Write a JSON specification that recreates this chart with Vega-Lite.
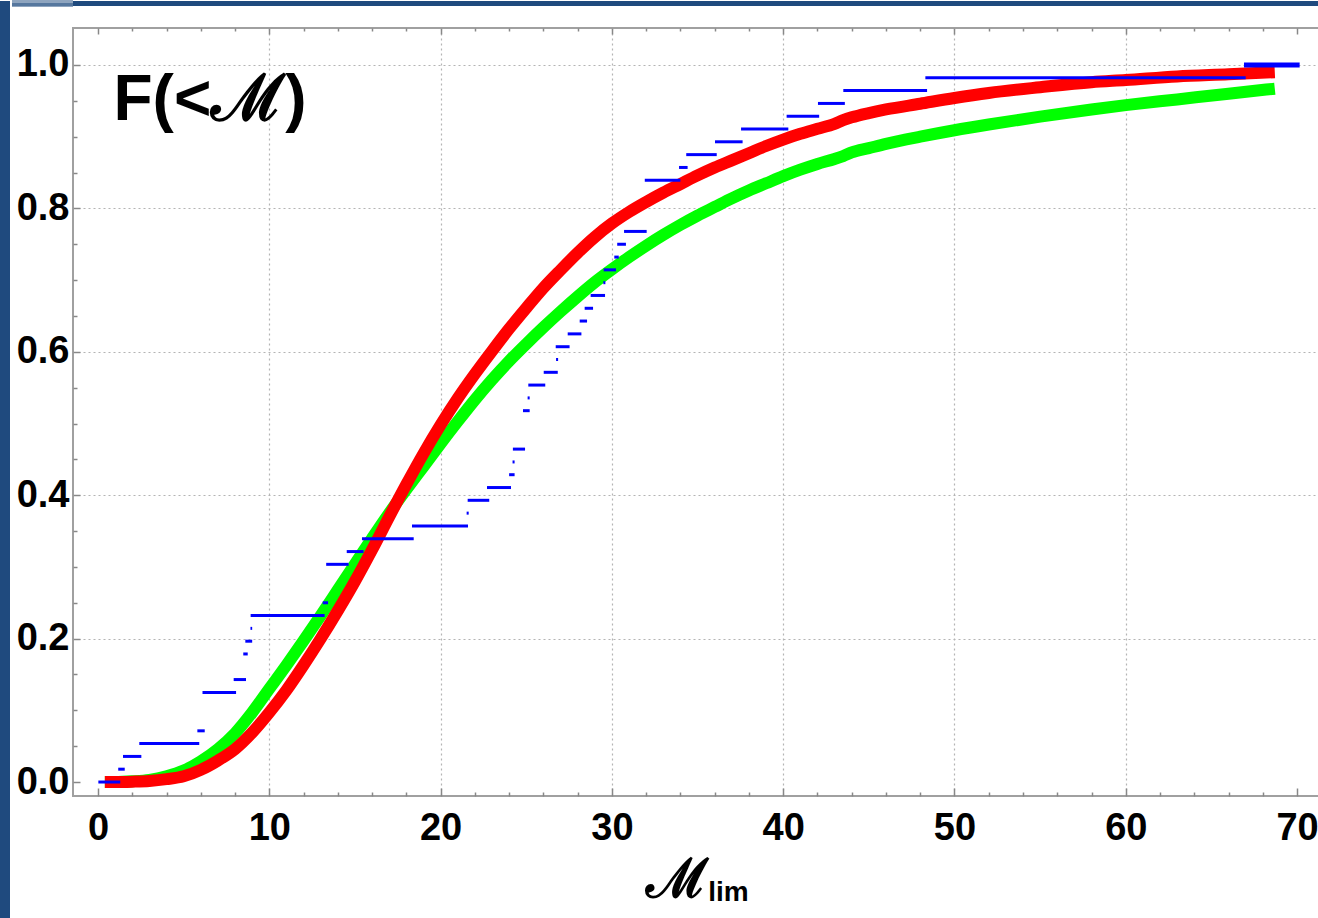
{
  "$schema": "https://vega.github.io/schema/vega-lite/v6.json",
  "background": "white",
  "padding": 0,
  "config": {"view": {"stroke": null}},
  "datasets": {
    "red": [
      {"x": 0.4, "F": 0.0}, {"x": 1, "F": 0.0}, {"x": 2, "F": 0.0005}, {"x": 3, "F": 0.0015}, {"x": 4, "F": 0.004},
      {"x": 5, "F": 0.008}, {"x": 6, "F": 0.017}, {"x": 7, "F": 0.03}, {"x": 8, "F": 0.046}, {"x": 9, "F": 0.069},
      {"x": 10, "F": 0.097}, {"x": 11, "F": 0.128}, {"x": 12, "F": 0.163}, {"x": 13, "F": 0.2}, {"x": 14, "F": 0.239},
      {"x": 15, "F": 0.28}, {"x": 16, "F": 0.324}, {"x": 17, "F": 0.37}, {"x": 18, "F": 0.415}, {"x": 19, "F": 0.458},
      {"x": 20, "F": 0.498}, {"x": 21, "F": 0.535}, {"x": 22, "F": 0.569}, {"x": 23, "F": 0.601}, {"x": 24, "F": 0.632},
      {"x": 25, "F": 0.661}, {"x": 26, "F": 0.689}, {"x": 27, "F": 0.714}, {"x": 28, "F": 0.738}, {"x": 29, "F": 0.76},
      {"x": 30, "F": 0.779}, {"x": 31, "F": 0.795}, {"x": 32, "F": 0.809}, {"x": 33, "F": 0.822}, {"x": 34, "F": 0.834},
      {"x": 35, "F": 0.846}, {"x": 36, "F": 0.857}, {"x": 37, "F": 0.867}, {"x": 38, "F": 0.877}, {"x": 39, "F": 0.887},
      {"x": 40, "F": 0.896}, {"x": 41, "F": 0.904}, {"x": 42, "F": 0.911}, {"x": 43, "F": 0.918}, {"x": 43.5, "F": 0.923},
      {"x": 44, "F": 0.927}, {"x": 45, "F": 0.933}, {"x": 46, "F": 0.938}, {"x": 48, "F": 0.946}, {"x": 50, "F": 0.954},
      {"x": 52, "F": 0.961}, {"x": 55, "F": 0.969}, {"x": 58, "F": 0.976}, {"x": 60, "F": 0.979}, {"x": 63, "F": 0.984},
      {"x": 66, "F": 0.987}, {"x": 68.7, "F": 0.99}
    ],
    "green": [
      {"x": 0.4, "F": 0.0}, {"x": 1, "F": 0.0}, {"x": 2, "F": 0.001}, {"x": 3, "F": 0.003}, {"x": 4, "F": 0.008},
      {"x": 5, "F": 0.016}, {"x": 6, "F": 0.029}, {"x": 7, "F": 0.046}, {"x": 8, "F": 0.068}, {"x": 9, "F": 0.097},
      {"x": 10, "F": 0.13}, {"x": 11, "F": 0.163}, {"x": 12, "F": 0.197}, {"x": 13, "F": 0.232}, {"x": 14, "F": 0.268},
      {"x": 15, "F": 0.304}, {"x": 16, "F": 0.34}, {"x": 17, "F": 0.375}, {"x": 18, "F": 0.408}, {"x": 19, "F": 0.44},
      {"x": 20, "F": 0.472}, {"x": 21, "F": 0.503}, {"x": 22, "F": 0.533}, {"x": 23, "F": 0.561}, {"x": 24, "F": 0.587},
      {"x": 25, "F": 0.611}, {"x": 26, "F": 0.634}, {"x": 27, "F": 0.656}, {"x": 28, "F": 0.677}, {"x": 29, "F": 0.697},
      {"x": 30, "F": 0.715}, {"x": 31, "F": 0.732}, {"x": 32, "F": 0.748}, {"x": 33, "F": 0.763}, {"x": 34, "F": 0.777},
      {"x": 35, "F": 0.79}, {"x": 36, "F": 0.802}, {"x": 37, "F": 0.814}, {"x": 38, "F": 0.825}, {"x": 39, "F": 0.835},
      {"x": 40, "F": 0.845}, {"x": 41, "F": 0.854}, {"x": 42, "F": 0.862}, {"x": 43, "F": 0.869}, {"x": 43.5, "F": 0.873},
      {"x": 44, "F": 0.878}, {"x": 45, "F": 0.884}, {"x": 46, "F": 0.89}, {"x": 48, "F": 0.9}, {"x": 50, "F": 0.909},
      {"x": 52, "F": 0.917}, {"x": 55, "F": 0.928}, {"x": 58, "F": 0.938}, {"x": 60, "F": 0.944}, {"x": 63, "F": 0.952},
      {"x": 66, "F": 0.96}, {"x": 68.7, "F": 0.967}
    ],
    "steps": [
      {"x1": 0.02, "x2": 1.3, "F": 0.0},
      {"x1": 1.18, "x2": 1.56, "F": 0.0179},
      {"x1": 1.46, "x2": 2.53, "F": 0.0357},
      {"x1": 2.41, "x2": 5.91, "F": 0.0536},
      {"x1": 5.8, "x2": 6.23, "F": 0.0714},
      {"x1": 6.1, "x2": 8.06, "F": 0.125},
      {"x1": 7.92, "x2": 8.64, "F": 0.1429},
      {"x1": 8.48, "x2": 8.74, "F": 0.1786},
      {"x1": 8.6, "x2": 9.0, "F": 0.1964},
      {"x1": 8.9, "x2": 9.0, "F": 0.2143},
      {"x1": 8.91, "x2": 13.23, "F": 0.2321},
      {"x1": 13.12, "x2": 13.43, "F": 0.25},
      {"x1": 13.32, "x2": 14.63, "F": 0.3036},
      {"x1": 14.52, "x2": 15.5, "F": 0.3214},
      {"x1": 15.41, "x2": 18.43, "F": 0.3393},
      {"x1": 18.33, "x2": 21.6, "F": 0.3571},
      {"x1": 21.52, "x2": 21.64, "F": 0.375},
      {"x1": 21.58, "x2": 22.84, "F": 0.3929},
      {"x1": 22.71, "x2": 24.11, "F": 0.4107},
      {"x1": 24.0, "x2": 24.32, "F": 0.4286},
      {"x1": 24.2, "x2": 24.32, "F": 0.4464},
      {"x1": 24.22, "x2": 24.93, "F": 0.4643},
      {"x1": 24.81, "x2": 25.2, "F": 0.5179},
      {"x1": 25.08, "x2": 25.2, "F": 0.5357},
      {"x1": 25.12, "x2": 26.11, "F": 0.5536},
      {"x1": 26.02, "x2": 26.84, "F": 0.5714},
      {"x1": 26.74, "x2": 26.86, "F": 0.5893},
      {"x1": 26.72, "x2": 27.53, "F": 0.6071},
      {"x1": 27.42, "x2": 28.22, "F": 0.625},
      {"x1": 28.12, "x2": 28.55, "F": 0.6429},
      {"x1": 28.41, "x2": 28.9, "F": 0.6607},
      {"x1": 28.76, "x2": 29.6, "F": 0.6786},
      {"x1": 29.5, "x2": 29.62, "F": 0.6964},
      {"x1": 29.52, "x2": 30.24, "F": 0.7143},
      {"x1": 30.14, "x2": 30.4, "F": 0.7321},
      {"x1": 30.31, "x2": 30.82, "F": 0.75},
      {"x1": 30.71, "x2": 32.03, "F": 0.7679},
      {"x1": 31.92, "x2": 34.0, "F": 0.8393},
      {"x1": 33.92, "x2": 34.42, "F": 0.8571},
      {"x1": 34.34, "x2": 36.12, "F": 0.875},
      {"x1": 36.02, "x2": 37.63, "F": 0.8929},
      {"x1": 37.54, "x2": 40.3, "F": 0.9107},
      {"x1": 40.2, "x2": 42.1, "F": 0.9286},
      {"x1": 42.03, "x2": 43.6, "F": 0.9464},
      {"x1": 43.51, "x2": 48.4, "F": 0.9643},
      {"x1": 48.3, "x2": 67.0, "F": 0.9821},
      {"x1": 66.9, "x2": 70.15, "F": 1.0}
    ]
  },
  "concat": [
    {
      "width": 10, "height": 918,
      "data": {"values": [{}]},
      "mark": {"type": "rect", "color": "#1f4a7e"},
      "encoding": {}
    },
    {
      "concat": [
        {
          "width": 1246, "height": 5,
          "data": {"values": [{}]},
          "layer": [
            {
              "mark": {"type": "rect", "color": "#1f4a7e"},
              "encoding": {}
            },
            {
              "mark": {"type": "rule", "color": "#1f4a7e", "strokeWidth": 1, "opacity": 0},
              "encoding": {
                "y": {"datum": 0.5, "type": "quantitative", "scale": {"domain": [0, 1], "nice": false, "zero": false},
                  "axis": {"orient": "left", "title": null, "domain": false, "labels": false, "grid": false,
                    "values": [0.1, 0.3, 0.5, 0.7, 0.9], "tickSize": 61, "tickWidth": 1, "tickColor": "#1f4a7e",
                    "translate": 0, "minExtent": 62, "maxExtent": 62}}
              }
            }
          ]
        },
        {
          "width": 1246, "height": 768,
          "view": {"stroke": "#a0a0a0", "strokeWidth": 2, "fill": "white"},
          "resolve": {"axis": {"x": "independent", "y": "independent"}},
          "layer": [
            {
              "data": {"name": "green"},
              "mark": {"type": "line", "color": "#00ff00", "strokeWidth": 12, "interpolate": "monotone", "strokeCap": "butt"},
              "encoding": {
                "x": {"field": "x", "type": "quantitative", "scale": {"domain": [-1.46, 71.28], "nice": false, "zero": false},
                  "axis": {"orient": "bottom", "title": null, "domain": false,
                    "values": [0,2,4,6,8,10,12,14,16,18,20,22,24,26,28,30,32,34,36,38,40,42,44,46,48,50,52,54,56,58,60,62,64,66,68,70],
                    "labelExpr": "datum.value % 10 === 0 ? datum.label : ''",
                    "tickSize": {"condition": {"test": "datum.value % 10 === 0", "value": -8}, "value": -4},
                    "tickColor": "#888888", "tickWidth": 1.5,
                    "grid": true,
                    "gridOpacity": {"condition": {"test": "datum.value % 10 === 0 && datum.value > 0 && datum.value < 70", "value": 1}, "value": 0},
                    "gridColor": "#b4b4b4", "gridDash": [2, 3], "gridWidth": 1.2,
                    "labelFont": "Liberation Sans", "labelFontWeight": "bold", "labelFontSize": 38, "labelColor": "black",
                    "labelPadding": 21, "labelFlush": false, "labelOverlap": false}},
                "y": {"field": "F", "type": "quantitative", "scale": {"domain": [-0.0195, 1.0516], "nice": false, "zero": false},
                  "axis": {"orient": "left", "title": null, "domain": false,
                    "values": [0,0.05,0.1,0.15,0.2,0.25,0.3,0.35,0.4,0.45,0.5,0.55,0.6,0.65,0.7,0.75,0.8,0.85,0.9,0.95,1.0],
                    "labelExpr": "abs(datum.value*5 - round(datum.value*5)) < 0.001 ? format(datum.value, '.1f') : ''",
                    "tickSize": {"condition": {"test": "abs(datum.value*5 - round(datum.value*5)) < 0.001", "value": -7}, "value": -4},
                    "tickColor": "#888888", "tickWidth": 1.5,
                    "grid": true,
                    "gridOpacity": {"condition": {"test": "abs(datum.value*5 - round(datum.value*5)) < 0.001 && datum.value > 0.1", "value": 1}, "value": 0},
                    "gridColor": "#b4b4b4", "gridDash": [2, 3], "gridWidth": 1.2,
                    "labelFont": "Liberation Sans", "labelFontWeight": "bold", "labelFontSize": 38, "labelColor": "black",
                    "labelPadding": 11, "labelFlush": false, "labelOverlap": false,
                    "minExtent": 62, "maxExtent": 62}}
              }
            },
            {
              "data": {"name": "red"},
              "mark": {"type": "line", "color": "#ff0000", "strokeWidth": 12, "interpolate": "monotone", "strokeCap": "butt"},
              "encoding": {
                "x": {"field": "x", "type": "quantitative", "scale": {"domain": [-1.46, 71.28], "nice": false, "zero": false},
                  "axis": {"orient": "top", "title": null, "domain": false, "labels": false, "grid": false,
                    "values": [0,2,4,6,8,10,12,14,16,18,20,22,24,26,28,30,32,34,36,38,40,42,44,46,48,50,52,54,56,58,60,62,64,66,68,70],
                    "tickSize": {"condition": {"test": "datum.value % 10 === 0", "value": -6}, "value": -3},
                    "tickColor": "#888888", "tickWidth": 1.5,
                    "minExtent": 20, "maxExtent": 20}},
                "y": {"field": "F", "type": "quantitative", "scale": {"domain": [-0.0195, 1.0516], "nice": false, "zero": false}, "axis": null}
              }
            },
            {
              "data": {"name": "steps"},
              "transform": [{"filter": "datum.F < 0.999"}],
              "mark": {"type": "rule", "color": "#0000ff", "strokeWidth": 3},
              "encoding": {
                "x": {"field": "x1", "type": "quantitative", "scale": {"domain": [-1.46, 71.28], "nice": false, "zero": false}, "axis": null},
                "x2": {"field": "x2"},
                "y": {"field": "F", "type": "quantitative", "scale": {"domain": [-0.0195, 1.0516], "nice": false, "zero": false}, "axis": null}
              }
            },
            {
              "data": {"name": "steps"},
              "transform": [{"filter": "datum.F >= 0.999"}],
              "mark": {"type": "rule", "color": "#0000ff", "strokeWidth": 5},
              "encoding": {
                "x": {"field": "x1", "type": "quantitative", "scale": {"domain": [-1.46, 71.28], "nice": false, "zero": false}, "axis": null},
                "x2": {"field": "x2"},
                "y": {"field": "F", "type": "quantitative", "scale": {"domain": [-0.0195, 1.0516], "nice": false, "zero": false}, "axis": null}
              }
            },
            {
              "data": {"values": [{}]},
              "mark": {"type": "text", "text": "F(<ℳ)", "font": "Liberation Sans", "fontWeight": "bold", "fontSize": 64, "color": "black", "align": "center", "baseline": "middle"},
              "encoding": {
                "x": {"datum": 6.54, "type": "quantitative", "scale": {"domain": [-1.46, 71.28], "nice": false, "zero": false}, "axis": null},
                "y": {"datum": 0.95, "type": "quantitative", "scale": {"domain": [-0.0195, 1.0516], "nice": false, "zero": false}, "axis": null}
              }
            },
            {
              "data": {"values": [{}]},
              "mark": {"type": "text", "text": "ℳ", "font": "Liberation Sans", "fontWeight": "bold", "fontSize": 54, "color": "black", "align": "center", "baseline": "middle"},
              "encoding": {
                "x": {"datum": 33.8, "type": "quantitative", "scale": {"domain": [-1.46, 71.28], "nice": false, "zero": false}, "axis": null},
                "y": {"datum": -0.138, "type": "quantitative", "scale": {"domain": [-0.0195, 1.0516], "nice": false, "zero": false}, "axis": null}
              }
            },
            {
              "data": {"values": [{}]},
              "mark": {"type": "text", "text": "lim", "font": "Liberation Sans", "fontWeight": "bold", "fontSize": 28, "color": "black", "align": "center", "baseline": "middle"},
              "encoding": {
                "x": {"datum": 36.8, "type": "quantitative", "scale": {"domain": [-1.46, 71.28], "nice": false, "zero": false}, "axis": null},
                "y": {"datum": -0.155, "type": "quantitative", "scale": {"domain": [-0.0195, 1.0516], "nice": false, "zero": false}, "axis": null}
              }
            }
          ]
        }
      ],
      "columns": 1,
      "align": "none",
      "spacing": 0
    }
  ],
  "columns": 2,
  "align": "none",
  "spacing": 0
}
